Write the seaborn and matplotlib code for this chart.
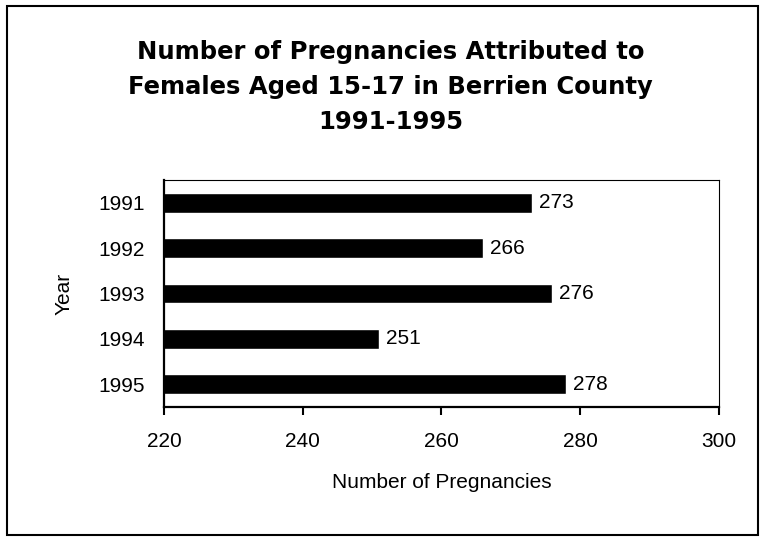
import matplotlib
matplotlib.use("Agg")
import matplotlib.pyplot as plt
import seaborn as sns
import pandas as pd
from matplotlib.patches import Rectangle

years = ["1991", "1992", "1993", "1994", "1995"]
pregnancies = [273, 266, 276, 251, 278]
title_lines = ["Number of Pregnancies Attributed to",
               "Females Aged 15-17 in Berrien County",
               "1991-1995"]

df = pd.DataFrame({"Year": years, "Pregnancies": pregnancies})

sns.set_style("ticks", {"text.color": "black", "axes.labelcolor": "black",
                        "xtick.color": "black", "ytick.color": "black",
                        "axes.edgecolor": "black"})
plt.rcParams['font.family'] = ['Liberation Sans', 'DejaVu Sans']

fig = plt.figure(figsize=(7.63, 5.37), dpi=100)
ax = fig.add_axes([0.2149, 0.2421, 0.7274, 0.4227])

sns.barplot(data=df, x="Pregnancies", y="Year", orient="h", color="black",
            saturation=1, width=0.44, ax=ax)
ax.set_xlim(220, 300)
ax.set_ylim(4.5, -0.5)
ax.set_xticks([220, 240, 260, 280, 300])
ax.tick_params(axis="x", direction="out", length=6, width=1.5, labelsize=15, pad=12)
ax.tick_params(axis="y", length=0, labelsize=15, pad=14)
ax.bar_label(ax.containers[0], fontsize=15, padding=5)

for s in ["top", "right"]:
    ax.spines[s].set_visible(True)
    ax.spines[s].set_linewidth(0.8)
for s in ["left", "bottom"]:
    ax.spines[s].set_linewidth(1.6)

ax.set_xlabel("Number of Pregnancies", fontsize=15, labelpad=16)
ax.set_ylabel("Year", fontsize=15, labelpad=18)

for i, line in enumerate(title_lines):
    fig.text(0.512, 0.9032 - i * 0.0652, line, ha="center", va="center",
             fontsize=17.5, fontweight="bold", family=["DejaVu Sans"])

fig.patches.append(Rectangle((0.009, 0.004), 0.985, 0.984, transform=fig.transFigure,
                             fill=False, edgecolor="black", linewidth=1.5))

fig.savefig("out.png", dpi=100)
